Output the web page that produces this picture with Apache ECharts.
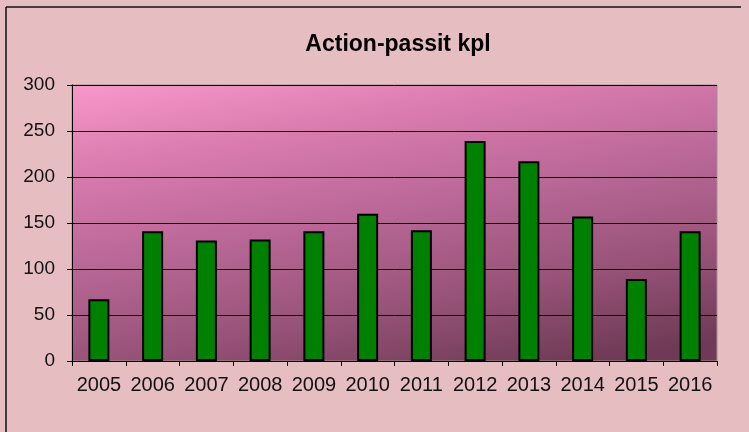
<!DOCTYPE html>
<html>
<head>
<meta charset="utf-8">
<script src="https://cdn.jsdelivr.net/npm/echarts@6/dist/echarts.min.js"></script>
<style>
  html, body { margin: 0; padding: 0; background: #e6bec1; }
  #chart { width: 749px; height: 432px; }
</style>
</head>
<body>
<div id="chart"></div>
<script>
// data
var years = ['2005', '2006', '2007', '2008', '2009', '2010', '2011', '2012', '2013', '2014', '2015', '2016'];
var passit = [67, 141, 131, 132, 141, 160, 142, 239, 217, 157, 89, 141];
var yTicks = [0, 50, 100, 150, 200, 250, 300];

var chart = echarts.init(document.getElementById('chart'));

chart.setOption({
  backgroundColor: '#e6bec1',
  animation: false,
  textStyle: { fontFamily: 'Liberation Sans, Arial, sans-serif' },
  title: {
    text: 'Action-passit kpl',
    left: 393,
    textAlign: 'center',
    top: 28,
    textStyle: { fontSize: 23, fontWeight: 'bold', color: '#000' }
  },
  graphic: [
    { type: 'line', shape: { x1: 6, y1: 7, x2: 741, y2: 7 }, style: { stroke: '#111', lineWidth: 1.5 } },
    { type: 'line', shape: { x1: 6, y1: 7, x2: 6, y2: 432 }, style: { stroke: '#111', lineWidth: 1.5 } }
  ],
  grid: {
    left: 72, right: 32, top: 85, bottom: 71,
    show: true,
    borderColor: '#a08f96',
    borderWidth: 1,
    // mostly vertical fade, a little darker to the right
    backgroundColor: new echarts.graphic.LinearGradient(0, 0, 0.1, 1.3, [
      { offset: 0, color: '#f898ca' },
      { offset: 0.25, color: '#d87aad' },
      { offset: 0.5, color: '#b86796' },
      { offset: 0.75, color: '#985379' },
      { offset: 1, color: '#6e3a55' }
    ])
  },
  xAxis: {
    type: 'category',
    data: years,
    axisLine: { lineStyle: { color: '#000', width: 1 } },
    axisTick: { show: true, length: 5, lineStyle: { color: '#000' } },
    axisLabel: { color: '#111', fontSize: 20, margin: 14, interval: 0, hideOverlap: false }
  },
  yAxis: {
    type: 'value',
    min: 0, max: 300, interval: 50,
    axisLine: { show: true, lineStyle: { color: '#000' } },
    axisTick: { show: true, length: 5, lineStyle: { color: '#000' } },
    axisLabel: {
      color: '#111', fontSize: 19, margin: 17,
      formatter: function (v) { return yTicks.indexOf(v) >= 0 ? String(v) : ''; }
    },
    splitLine: { lineStyle: { color: '#000', width: 1 } }
  },
  series: [{
    type: 'bar',
    data: passit,
    barWidth: 21,
    itemStyle: { color: '#008000', borderColor: '#000', borderWidth: 2 }
  }]
});
</script>
</body>
</html>
